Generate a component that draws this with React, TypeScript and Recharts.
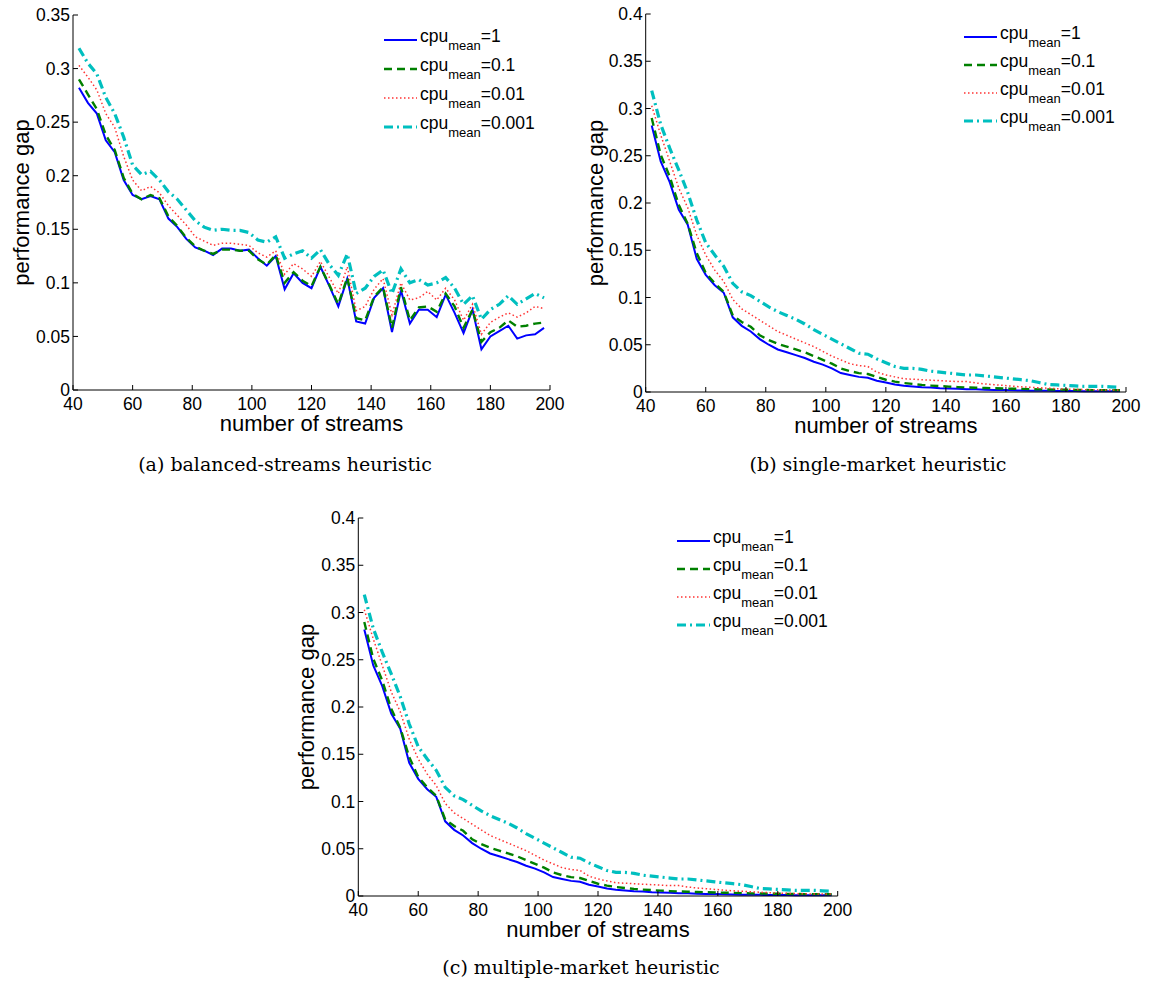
import React from "react";
import { Legend, Line, LineChart, XAxis, YAxis } from "recharts";

// number of streams (x positions shared by all panels)
const streams = [
  42, 45, 48, 51, 54, 57, 60, 63, 66, 69, 72, 75, 78, 81, 84, 87, 90, 93, 96, 99,
  102, 105, 108, 111, 114, 117, 120, 123, 126, 129, 132, 135, 138, 141, 144, 147,
  150, 153, 156, 159, 162, 165, 168, 171, 174, 177, 180, 183, 186, 189, 192, 195, 198,
];

// (a) balanced-streams heuristic
const balancedCpu1 = [
  0.282, 0.268, 0.258, 0.233, 0.222, 0.196, 0.182, 0.178, 0.181, 0.178, 0.16, 0.152,
  0.141, 0.133, 0.13, 0.126, 0.132, 0.132, 0.13, 0.131, 0.123, 0.116, 0.125, 0.094,
  0.109, 0.1, 0.095, 0.115, 0.097, 0.078, 0.104, 0.064, 0.062, 0.086, 0.095, 0.054,
  0.093, 0.062, 0.075, 0.075, 0.068, 0.089, 0.072, 0.053, 0.075, 0.038, 0.05, 0.055,
  0.06, 0.048, 0.051, 0.052, 0.058,
];
const balancedCpu01 = [
  0.29, 0.276, 0.262, 0.238, 0.224, 0.198, 0.183, 0.178, 0.182, 0.179, 0.162, 0.153,
  0.142, 0.134, 0.13, 0.127, 0.131, 0.131, 0.13, 0.13, 0.122, 0.117, 0.126, 0.1,
  0.11, 0.102, 0.097, 0.115, 0.098, 0.08, 0.105, 0.067, 0.065, 0.087, 0.096, 0.058,
  0.096, 0.065, 0.077, 0.078, 0.073, 0.09, 0.078, 0.058, 0.075, 0.045, 0.054, 0.058,
  0.065, 0.059, 0.06, 0.062, 0.063,
];
const balancedCpu001 = [
  0.303, 0.292, 0.28, 0.258, 0.245, 0.218, 0.196, 0.186, 0.19, 0.184, 0.172, 0.163,
  0.154, 0.143, 0.139, 0.135, 0.137, 0.137, 0.136, 0.135, 0.128, 0.124, 0.13, 0.108,
  0.118, 0.113, 0.106, 0.12, 0.105, 0.09, 0.115, 0.074, 0.078, 0.094, 0.104, 0.07,
  0.1, 0.084, 0.086, 0.092, 0.084, 0.095, 0.084, 0.065, 0.08, 0.052, 0.063, 0.068,
  0.072, 0.068, 0.072, 0.078, 0.076,
];
const balancedCpu0001 = [
  0.319, 0.305, 0.295, 0.273, 0.258, 0.236, 0.21, 0.201, 0.204, 0.196, 0.185, 0.178,
  0.168, 0.158, 0.152, 0.149, 0.15, 0.149, 0.149, 0.147, 0.14, 0.138, 0.143, 0.123,
  0.127, 0.13, 0.123, 0.131, 0.117, 0.107, 0.127, 0.09, 0.095, 0.106, 0.112, 0.09,
  0.113, 0.1, 0.103, 0.098, 0.1, 0.105, 0.095, 0.08, 0.088, 0.066, 0.075, 0.08,
  0.088, 0.08, 0.085, 0.09, 0.086,
];

// (b) single-market and (c) multiple-market heuristics
const marketCpu1 = [
  0.282, 0.244, 0.222, 0.193, 0.177, 0.141, 0.124, 0.113, 0.105, 0.079, 0.07, 0.064,
  0.056, 0.05, 0.045, 0.042, 0.039, 0.036, 0.032, 0.029, 0.025, 0.02, 0.018, 0.016,
  0.015, 0.012, 0.01, 0.008, 0.0065, 0.0058, 0.005, 0.0047, 0.004, 0.0037, 0.0034,
  0.003, 0.0028, 0.0025, 0.0022, 0.002, 0.0018, 0.0016, 0.0014, 0.0013, 0.0012,
  0.0011, 0.001, 0.001, 0.0009, 0.0009, 0.0008, 0.0008, 0.0007,
];
const marketCpu01 = [
  0.29, 0.251, 0.228, 0.198, 0.178, 0.147, 0.126, 0.115, 0.106, 0.081, 0.074, 0.069,
  0.06, 0.055, 0.051, 0.048, 0.045, 0.042, 0.038, 0.034, 0.03, 0.025, 0.022, 0.02,
  0.019, 0.016, 0.013, 0.011, 0.0095, 0.0085, 0.0075, 0.0068, 0.0062, 0.0057, 0.0052,
  0.0048, 0.0045, 0.0042, 0.004, 0.0037, 0.0035, 0.0033, 0.003, 0.0028, 0.0026,
  0.0025, 0.0024, 0.0022, 0.0021, 0.002, 0.002, 0.0019, 0.0018,
];
const marketCpu001 = [
  0.303, 0.272, 0.244, 0.216, 0.195, 0.166, 0.145, 0.129, 0.117, 0.098, 0.088, 0.082,
  0.076, 0.07, 0.064, 0.06, 0.056, 0.052, 0.048, 0.043, 0.038, 0.034, 0.03, 0.028,
  0.027, 0.021, 0.018, 0.016, 0.014, 0.0135, 0.013, 0.0125, 0.012, 0.0115, 0.011,
  0.011, 0.0095, 0.0085, 0.0078, 0.007, 0.0062, 0.0055, 0.005, 0.0045, 0.004, 0.0035,
  0.003, 0.0028, 0.0025, 0.0023, 0.0022, 0.002, 0.002,
];
const marketCpu0001 = [
  0.319, 0.283, 0.258, 0.235, 0.211, 0.182, 0.158, 0.145, 0.133, 0.115, 0.106, 0.102,
  0.096, 0.09, 0.085, 0.081, 0.077, 0.072, 0.066, 0.061, 0.056, 0.051, 0.046, 0.041,
  0.04, 0.035, 0.031, 0.027, 0.025, 0.025, 0.024, 0.022, 0.021, 0.02, 0.019, 0.018,
  0.018, 0.017, 0.016, 0.015, 0.014, 0.013, 0.012, 0.01, 0.008, 0.0075, 0.007,
  0.0065, 0.006, 0.006, 0.006, 0.0055, 0.005,
];

const xTicks = [40, 60, 80, 100, 120, 140, 160, 180, 200];
const yTicksA = [0, 0.05, 0.1, 0.15, 0.2, 0.25, 0.3, 0.35];
const yTicksB = [0, 0.05, 0.1, 0.15, 0.2, 0.25, 0.3, 0.35, 0.4];
const cpuLabels = ["1", "0.1", "0.01", "0.001"];

const SANS = '"Liberation Sans", Arial, Helvetica, sans-serif';
const SERIF = '"DejaVu Serif", serif';

const seriesStyle = [
  { key: "c1", color: "#0000ff", width: 2, dash: undefined },
  { key: "c2", color: "#008000", width: 2.4, dash: "8 5" },
  { key: "c3", color: "#ff3333", width: 1.5, dash: "1.5 2.5" },
  { key: "c4", color: "#00bfbf", width: 3.2, dash: "9 4 2 4" },
];

function buildRows(s1: number[], s2: number[], s3: number[], s4: number[]) {
  return streams.map((x, i) => ({ x, c1: s1[i], c2: s2[i], c3: s3[i], c4: s4[i] }));
}

const rowsA = buildRows(balancedCpu1, balancedCpu01, balancedCpu001, balancedCpu0001);
const rowsB = buildRows(marketCpu1, marketCpu01, marketCpu001, marketCpu0001);

const CpuLegend = ({ rowH }: { rowH: number }) => (
  <div style={{ fontFamily: SANS, color: "#000" }}>
    {seriesStyle.map((s, i) => (
      <div key={s.key} style={{ display: "flex", alignItems: "center", height: rowH }}>
        <svg width={33} height={8} style={{ display: "block" }}>
          <line x1={0} x2={33} y1={4} y2={4} stroke={s.color} strokeWidth={s.width} strokeDasharray={s.dash} />
        </svg>
        <span style={{ fontSize: 17.5, marginLeft: 3, lineHeight: 1, position: "relative", top: -3, whiteSpace: "nowrap" }}>
          cpu
          <span style={{ fontSize: 13, position: "relative", top: 8 }}>mean</span>={cpuLabels[i]}
        </span>
      </div>
    ))}
  </div>
);

type PanelProps = {
  rows: ReturnType<typeof buildRows>;
  left: number;
  top: number;
  width: number;
  height: number;
  margin: { top: number; right: number; bottom: number; left: number };
  yAxisWidth: number;
  yMax: number;
  yTicks: number[];
  yTitleX: number;
  legendPos: { left: number; top: number };
  legendRowH: number;
};

function Panel(p: PanelProps) {
  const tick = { fill: "#000", fontSize: 17.5, fontFamily: SANS };
  return (
    <div style={{ position: "absolute", left: p.left, top: p.top }}>
      <LineChart width={p.width} height={p.height} data={p.rows} margin={p.margin}>
        <XAxis
          type="number"
          dataKey="x"
          domain={[40, 200]}
          ticks={xTicks}
          interval={0}
          height={50}
          stroke="#000"
          tick={tick}
          tickSize={-5}
          tickMargin={13}
          label={{
            content: (lp: any) => {
              const vb = lp.viewBox;
              return (
                <text x={vb.x + vb.width / 2} y={vb.y + 41} textAnchor="middle" fontSize={22} fontFamily={SANS} fill="#000">
                  number of streams
                </text>
              );
            },
          }}
        />
        <YAxis
          type="number"
          domain={[0, p.yMax]}
          ticks={p.yTicks}
          interval={0}
          width={p.yAxisWidth}
          stroke="#000"
          tick={tick}
          tickSize={-5}
          tickMargin={8}
          label={{
            content: (lp: any) => {
              const vb = lp.viewBox;
              const cx = vb.x + p.yTitleX;
              const cy = vb.y + vb.height / 2;
              return (
                <text x={cx} y={cy} transform={`rotate(-90, ${cx}, ${cy})`} textAnchor="middle" fontSize={22} fontFamily={SANS} fill="#000">
                  performance gap
                </text>
              );
            },
          }}
        />
        <Legend
          layout="vertical"
          align="center"
          verticalAlign="middle"
          wrapperStyle={{ left: p.legendPos.left, top: p.legendPos.top, width: 200 }}
          content={() => <CpuLegend rowH={p.legendRowH} />}
        />
        {seriesStyle.map((s) => (
          <Line
            key={s.key}
            type="linear"
            dataKey={s.key}
            stroke={s.color}
            strokeWidth={s.width}
            strokeDasharray={s.dash}
            dot={false}
            isAnimationActive={false}
          />
        ))}
      </LineChart>
    </div>
  );
}

const Caption = ({ text, cx, top }: { text: string; cx: number; top: number }) => (
  <div
    style={{
      position: "absolute",
      left: cx - 200,
      top,
      width: 400,
      textAlign: "center",
      fontFamily: SERIF,
      fontSize: 19,
      lineHeight: "19px",
      color: "#000",
    }}
  >
    {text}
  </div>
);

export default function App() {
  return (
    <div style={{ position: "absolute", left: 0, top: 0, width: 1150, height: 981, background: "#fff" }}>
      <Panel
        rows={rowsA}
        left={0}
        top={0}
        width={600}
        height={445}
        margin={{ top: 15, right: 50, bottom: 5, left: 0 }}
        yAxisWidth={73}
        yMax={0.35}
        yTicks={yTicksA}
        yTitleX={28.5}
        legendPos={{ left: 384, top: 25 }}
        legendRowH={29}
      />
      <Panel
        rows={rowsB}
        left={560}
        top={0}
        width={590}
        height={445}
        margin={{ top: 14, right: 24, bottom: 3, left: 0 }}
        yAxisWidth={85.7}
        yMax={0.4}
        yTicks={yTicksB}
        yTitleX={43}
        legendPos={{ left: 404, top: 23 }}
        legendRowH={28}
      />
      <Panel
        rows={rowsB}
        left={270}
        top={500}
        width={620}
        height={450}
        margin={{ top: 18, right: 52.3, bottom: 4, left: 0 }}
        yAxisWidth={88.3}
        yMax={0.4}
        yTicks={yTicksB}
        yTitleX={44.3}
        legendPos={{ left: 407, top: 27 }}
        legendRowH={28}
      />
      <Caption text="(a) balanced-streams heuristic" cx={285} top={455} />
      <Caption text="(b) single-market heuristic" cx={878} top={455} />
      <Caption text="(c) multiple-market heuristic" cx={581} top={958} />
    </div>
  );
}
